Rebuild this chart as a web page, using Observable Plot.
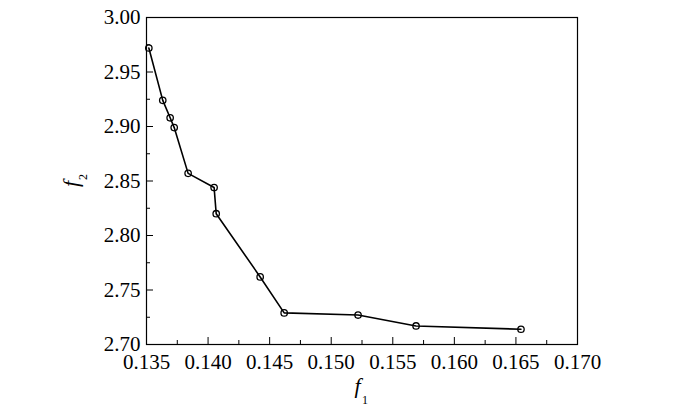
<!DOCTYPE html>
<html><head><meta charset="utf-8">
<script src="https://cdn.jsdelivr.net/npm/d3@7"></script>
<script src="https://cdn.jsdelivr.net/npm/@observablehq/plot@0.6"></script>
<style>
body{margin:0;background:#fff}
#chart svg, #chart svg text { font-family: "Liberation Serif", "Times New Roman", serif !important; }
</style></head>
<body><div id="chart"></div>
<script>
const f1Values = [0.13519, 0.13632, 0.13692, 0.13725, 0.13838, 0.14049, 0.14066, 0.14423, 0.14618, 0.15218, 0.15689, 0.16541];
const f2Values = [2.972, 2.924, 2.908, 2.899, 2.857, 2.844, 2.820, 2.762, 2.729, 2.727, 2.717, 2.714];
const xTicks = [0.135, 0.140, 0.145, 0.150, 0.155, 0.160, 0.165, 0.170];
const xMinor = [0.1375, 0.1425, 0.1475, 0.1525, 0.1575, 0.1625, 0.1675];
const yTicks = [2.70, 2.75, 2.80, 2.85, 2.90, 2.95, 3.00];
const yMinor = [2.725, 2.775, 2.825, 2.875, 2.925, 2.975];

const data = f1Values.map((x, i) => ({f1: x, f2: f2Values[i]}));
const serif = "Liberation Serif";

const chart = Plot.plot({
  width: 700,
  height: 407,
  marginLeft: 146,
  marginRight: 123,
  marginTop: 17,
  marginBottom: 63,
  style: "font-family: 'Liberation Serif', serif; font-size: 21px; background: white; color: black;",
  x: {domain: [0.135, 0.170]},
  y: {domain: [2.70, 3.00]},
  marks: [
    Plot.frame({stroke: "black", strokeWidth: 1.2}),
    Plot.axisX({ticks: xTicks, tickSize: 0, tickPadding: 10, tickFormat: d3.format(".3f"), label: null, fontSize: 21, fontFamily: serif}),
    Plot.axisX({ticks: xTicks, tickSize: 7, insetBottom: 7, text: null, label: null}),
    Plot.axisX({ticks: xMinor, tickSize: 4, insetBottom: 4, text: null, label: null}),
    Plot.axisY({ticks: yTicks, tickSize: 0, tickPadding: 6, tickFormat: d3.format(".2f"), label: null, fontSize: 21, fontFamily: serif}),
    Plot.axisY({ticks: yTicks, tickSize: 7, insetLeft: 7, text: null, label: null}),
    Plot.axisY({ticks: yMinor, tickSize: 4, insetLeft: 4, text: null, label: null}),
    Plot.line(data, {x: "f1", y: "f2", stroke: "black", strokeWidth: 1.6}),
    Plot.dot(data, {x: "f1", y: "f2", r: 3.2, stroke: "black", fill: "none", strokeWidth: 1.3}),
    Plot.text(["f"], {frameAnchor: "bottom", text: d => d, dx: -4.5, dy: 48, fontStyle: "italic", fontSize: 22, fontFamily: serif}),
    Plot.text(["1"], {frameAnchor: "bottom", text: d => d, dx: 3, dy: 59, fontSize: 12, fontFamily: serif}),
    Plot.text(["f"], {frameAnchor: "left", text: d => d, rotate: -90, dx: -76, dy: 6, fontStyle: "italic", fontSize: 22, fontFamily: serif}),
    Plot.text(["2"], {frameAnchor: "left", text: d => d, rotate: -90, dx: -63, dy: -1, fontSize: 12, fontFamily: serif})
  ]
});
document.getElementById("chart").appendChild(chart);
</script>
</body></html>
